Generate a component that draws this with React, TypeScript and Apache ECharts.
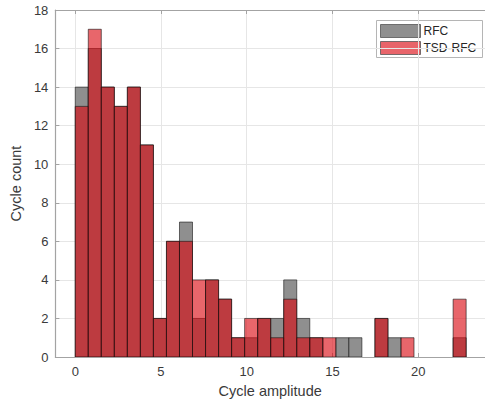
import React, { useEffect, useRef } from "react";
import * as echarts from "echarts";

// Histogram counts per bin (30 bins of equal width starting at 0)
const BIN_WIDTH = 0.76;
const rfcCounts = [14, 16, 14, 13, 14, 11, 2, 6, 7, 2, 4, 3, 1, 1, 2, 2, 4, 2, 1, 0, 1, 1, 0, 2, 1, 0, 0, 0, 0, 1];
const tsdCounts = [13, 17, 14, 13, 14, 11, 2, 6, 6, 4, 4, 3, 1, 2, 2, 1, 3, 1, 1, 1, 0, 0, 0, 2, 0, 1, 0, 0, 0, 3];
const xTicks = [0, 5, 10, 15, 20];
const seriesNames = ["RFC", "TSD-RFC"];

const FONT = "Liberation Sans, Arial, Helvetica, sans-serif";
const RFC_FILL = "#8f8f8f";
const TSD_FILL = "rgba(218, 8, 16, 0.62)";
const TSD_SWATCH = "#e8646a";
const EDGE = "rgba(20, 20, 20, 0.75)";

function toBins(counts: number[]) {
  return counts.map((c, i) => [i * BIN_WIDTH, (i + 1) * BIN_WIDTH, c]);
}

function histSeries(name: string, counts: number[], fill: string, z: number) {
  return {
    type: "custom",
    name,
    z,
    clip: true,
    data: toBins(counts),
    encode: { x: [0, 1], y: 2 },
    renderItem: (_params: any, api: any) => {
      const h = api.value(2);
      if (!h) return null;
      const p0 = api.coord([api.value(0), h]);
      const p1 = api.coord([api.value(1), 0]);
      return {
        type: "rect",
        shape: { x: p0[0], y: p0[1], width: p1[0] - p0[0], height: p1[1] - p0[1] },
        style: { fill, stroke: EDGE, lineWidth: 0.8 },
      };
    },
  };
}

export default function App() {
  const ref = useRef<HTMLDivElement>(null);

  useEffect(() => {
    if (!ref.current) return;
    const chart = echarts.init(ref.current, null, { renderer: "svg" });
    const axisColor = "#a3a3a3";
    const labelColor = "#3a3a3a";

    chart.setOption({
      animation: false,
      backgroundColor: "#ffffff",
      grid: { left: 52, top: 10, width: 440, height: 348 },
      xAxis: [
        {
          type: "value",
          min: -1.16,
          max: 23.9,
          name: "Cycle amplitude",
          nameLocation: "middle",
          nameGap: 26,
          nameTextStyle: { fontFamily: FONT, fontSize: 14.5, color: labelColor },
          axisLine: { show: true, onZero: false, lineStyle: { color: axisColor, width: 1.2 } },
          axisTick: { show: true, inside: true, length: 4, customValues: xTicks, lineStyle: { color: axisColor } },
          axisLabel: { customValues: xTicks, fontFamily: FONT, fontSize: 13, color: labelColor, margin: 8 },
          splitLine: { show: true, lineStyle: { color: "#e6e6e6", width: 1 } },
        },
        {
          type: "value",
          position: "top",
          min: -1.16,
          max: 23.9,
          axisLine: { show: true, onZero: false, lineStyle: { color: axisColor, width: 1.2 } },
          axisTick: { show: true, inside: true, length: 4, customValues: xTicks, lineStyle: { color: axisColor } },
          axisLabel: { show: false },
          splitLine: { show: false },
        },
      ],
      yAxis: {
        type: "value",
        min: 0,
        max: 18,
        interval: 2,
        name: "Cycle count",
        nameLocation: "middle",
        nameGap: 27,
        nameTextStyle: { fontFamily: FONT, fontSize: 14.5, color: labelColor },
        axisLine: { show: true, onZero: false, lineStyle: { color: axisColor, width: 1.2 } },
        axisTick: { show: true, inside: true, length: 4, lineStyle: { color: axisColor } },
        axisLabel: { fontFamily: FONT, fontSize: 13, color: labelColor, margin: 7 },
        splitLine: { show: true, lineStyle: { color: "#e6e6e6", width: 1 } },
      },
      series: [
        histSeries(seriesNames[0], rfcCounts, RFC_FILL, 2),
        histSeries(seriesNames[1], tsdCounts, TSD_FILL, 3),
      ],
      graphic: [
        {
          type: "group",
          left: 376,
          top: 20,
          z: 100,
          children: [
            {
              type: "rect",
              shape: { x: 0, y: 0, width: 106, height: 37 },
              style: { fill: "#ffffff", stroke: "#b5b5b5", lineWidth: 1 },
            },
            {
              type: "rect",
              shape: { x: 4, y: 4, width: 40, height: 13 },
              style: { fill: RFC_FILL, stroke: "#555555", lineWidth: 0.8 },
            },
            {
              type: "text",
              x: 47,
              y: 10.5,
              style: { text: seriesNames[0], font: `12px ${FONT}`, fill: "#262626", verticalAlign: "middle" },
            },
            {
              type: "rect",
              shape: { x: 4, y: 21, width: 40, height: 13 },
              style: { fill: TSD_SWATCH, stroke: "#555555", lineWidth: 0.8 },
            },
            {
              type: "text",
              x: 47,
              y: 27.5,
              style: { text: seriesNames[1], font: `12px ${FONT}`, fill: "#262626", verticalAlign: "middle" },
            },
          ],
        },
      ],
    });

    return () => chart.dispose();
  }, []);

  return <div ref={ref} style={{ position: "absolute", left: 0, top: 0, width: 485, height: 403 }} />;
}
